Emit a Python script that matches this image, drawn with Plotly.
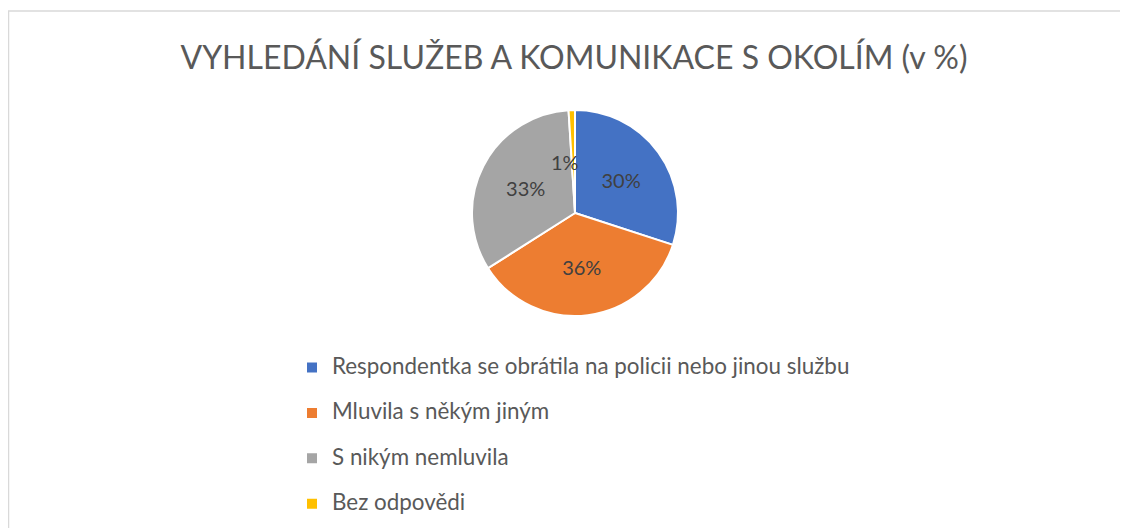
import math
import plotly.graph_objects as go

# data
categories = [
    "Respondentka se obrátila na policii nebo jinou službu",
    "Mluvila s někým jiným",
    "S nikým nemluvila",
    "Bez odpovědi",
]
shares = [30, 36, 33, 1]
colors = ["#4472C4", "#ED7D31", "#A5A5A5", "#FFC000"]

W, H = 1128, 528
OFF = 8  # page body margin
cx, cy, r = 575 - OFF, 213 - OFF, 103  # pie centre / radius in figure px

# slices too thin for an inside label get it placed at half radius
small = [s < 3 for s in shares]
texts = ["" if sm else f"{s}%" for s, sm in zip(shares, small)]

fig = go.Figure()
fig.add_trace(go.Pie(
    labels=[f"<span style='font-size:22.4px'>{c}</span><br> " for c in categories],
    values=shares,
    text=texts,
    sort=False,
    direction="clockwise",
    rotation=0,
    marker=dict(colors=colors, line=dict(color="white", width=2)),
    texttemplate="%{text}",
    textposition="inside",
    insidetextorientation="horizontal",
    textfont=dict(family="Lato", size=20, color="#404040"),
    hoverinfo="skip",
    domain=dict(x=[(cx - r) / W, (cx + r) / W],
                y=[(H - cy - r) / H, (H - cy + r) / H]),
))

annotations = []
total = sum(shares)
acc = 0
for s, sm in zip(shares, small):
    if sm:
        ang = 2 * math.pi * (acc + s / 2) / total
        px = cx + 0.5 * r * math.sin(ang) - 8
        py = cy - 0.5 * r * math.cos(ang)
        annotations.append(dict(x=px / W, y=1 - py / H, xref="paper", yref="paper",
                                xanchor="center", yanchor="middle",
                                text=f"{s}%", showarrow=False,
                                font=dict(family="Lato", size=20, color="#404040")))
    acc += s

fig.update_layout(
    width=W, height=H,
    margin=dict(l=0, r=0, t=0, b=0, autoexpand=False),
    paper_bgcolor="white",
    plot_bgcolor="white",
    title=dict(text="VYHLEDÁNÍ SLUŽEB A KOMUNIKACE S OKOLÍM (v %)",
               x=(574 - OFF) / W, xanchor="center", y=1 - (58 - OFF) / H, yanchor="middle",
               font=dict(family="Lato", size=32, color="#595959")),
    legend=dict(x=284 / W, xanchor="left", y=1 - 342.5 / H, yanchor="top",
                valign="top", orientation="v",
                font=dict(family="Lato", size=16.3, color="#595959"),
                itemclick=False, itemdoubleclick=False),
    annotations=annotations,
    shapes=[dict(type="rect", xref="paper", yref="paper",
                 x0=0.5 / W, x1=1.02, y0=-0.02, y1=1 - 3 / H,
                 line=dict(color="#D9D9D9", width=1.5))],
)

fig.write_html("out.html")
